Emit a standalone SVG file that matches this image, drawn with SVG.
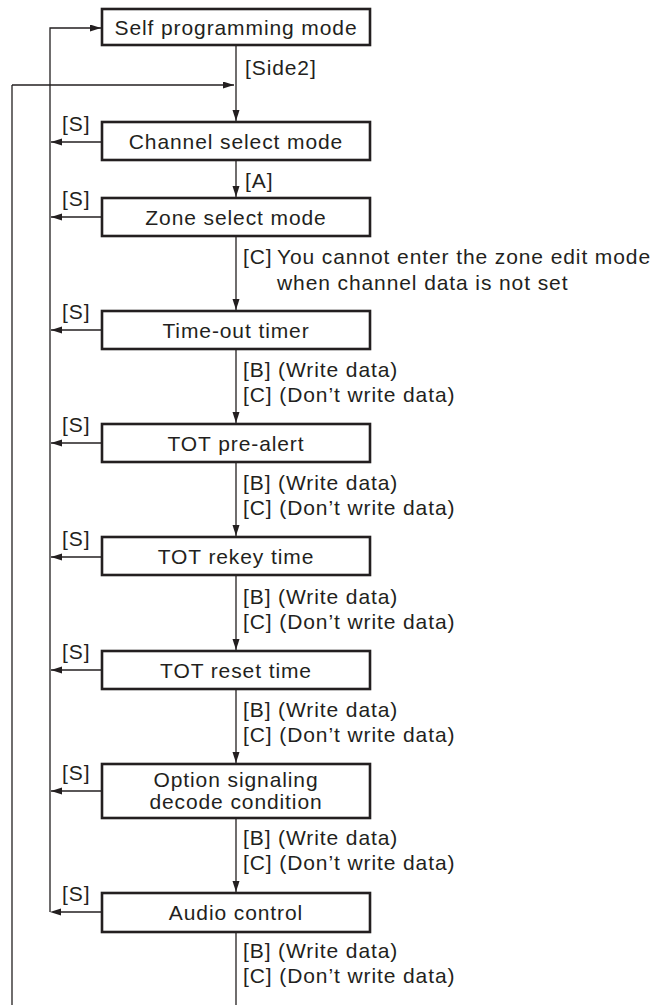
<svg xmlns="http://www.w3.org/2000/svg" width="668" height="1005" viewBox="0 0 668 1005">
<style>
  .box { fill: #fff; stroke: #231f20; stroke-width: 2.6; }
  .t { font-family: "Liberation Sans", Arial, sans-serif; font-size: 21px; letter-spacing: 0.9px; fill: #231f20; }
  .c { text-anchor: middle; }
  .ln { fill: none; stroke: #231f20; stroke-width: 1.3; }
  .ar { fill: none; stroke: #231f20; stroke-width: 1.3; marker-end: url(#ah); }
</style>
<defs>
  <marker id="ah" markerUnits="userSpaceOnUse" markerWidth="12" markerHeight="8" refX="11" refY="3.5" orient="auto">
    <path d="M0,0 L11,3.5 L0,7 Z" fill="#231f20"/>
  </marker>
</defs>
<rect width="668" height="1005" fill="#fff"/>

<g id="connectors">
  <path class="ln" d="M12,1005 V85"/>
  <path class="ar" d="M12,85 H234"/>
  <path class="ar" d="M50,912 V28 H101"/>
  <path class="ar" d="M102,142 H51"/>
  <path class="ar" d="M102,217 H51"/>
  <path class="ar" d="M102,330 H51"/>
  <path class="ar" d="M102,443 H51"/>
  <path class="ar" d="M102,557 H51"/>
  <path class="ar" d="M102,670 H51"/>
  <path class="ar" d="M102,791 H51"/>
  <path class="ln" d="M102,912 H60"/>
  <path d="M50,912 L61,908.5 L61,915.5 Z" fill="#231f20"/>
  <path class="ar" d="M236,46 V121"/>
  <path class="ar" d="M236,161 V197"/>
  <path class="ar" d="M236,237 V310"/>
  <path class="ar" d="M236,350 V423"/>
  <path class="ar" d="M236,463 V536"/>
  <path class="ar" d="M236,576 V650"/>
  <path class="ar" d="M236,690 V763"/>
  <path class="ar" d="M236,819 V892"/>
  <path class="ln" d="M236,933 V1005"/>
</g>

<g id="labels">
  <text class="t" x="245" y="75">[Side2]</text>
  <text class="t" x="62" y="131">[S]</text>
  <text class="t" x="245" y="188">[A]</text>
  <text class="t" x="62" y="206">[S]</text>
  <text class="t" x="243" y="264">[C]</text>
  <text class="t" x="277" y="264">You cannot enter the zone edit mode</text>
  <text class="t" x="277" y="290">when channel data is not set</text>
  <text class="t" x="62" y="319">[S]</text>
  <text class="t" x="243" y="377">[B] (Write data)</text>
  <text class="t" x="243" y="402">[C] (Don’t write data)</text>
  <text class="t" x="62" y="432">[S]</text>
  <text class="t" x="243" y="490">[B] (Write data)</text>
  <text class="t" x="243" y="515">[C] (Don’t write data)</text>
  <text class="t" x="62" y="546">[S]</text>
  <text class="t" x="243" y="604">[B] (Write data)</text>
  <text class="t" x="243" y="629">[C] (Don’t write data)</text>
  <text class="t" x="62" y="659">[S]</text>
  <text class="t" x="243" y="717">[B] (Write data)</text>
  <text class="t" x="243" y="742">[C] (Don’t write data)</text>
  <text class="t" x="62" y="780">[S]</text>
  <text class="t" x="243" y="845">[B] (Write data)</text>
  <text class="t" x="243" y="870">[C] (Don’t write data)</text>
  <text class="t" x="62" y="901">[S]</text>
  <text class="t" x="243" y="958">[B] (Write data)</text>
  <text class="t" x="243" y="983">[C] (Don’t write data)</text>
</g>

<g id="self-programming-mode">
  <rect class="box" x="102" y="9" width="268" height="36"/>
  <text class="t c" x="236" y="35">Self programming mode</text>
</g>
<g id="channel-select-mode">
  <rect class="box" x="102" y="122" width="268" height="38"/>
  <text class="t c" x="236" y="149">Channel select mode</text>
</g>
<g id="zone-select-mode">
  <rect class="box" x="102" y="198" width="268" height="38"/>
  <text class="t c" x="236" y="225">Zone select mode</text>
</g>
<g id="time-out-timer">
  <rect class="box" x="102" y="311" width="268" height="38"/>
  <text class="t c" x="236" y="338">Time-out timer</text>
</g>
<g id="tot-pre-alert">
  <rect class="box" x="102" y="424" width="268" height="38"/>
  <text class="t c" x="236" y="451">TOT pre-alert</text>
</g>
<g id="tot-rekey-time">
  <rect class="box" x="102" y="537" width="268" height="38"/>
  <text class="t c" x="236" y="564">TOT rekey time</text>
</g>
<g id="tot-reset-time">
  <rect class="box" x="102" y="651" width="268" height="38"/>
  <text class="t c" x="236" y="678">TOT reset time</text>
</g>
<g id="option-signaling">
  <rect class="box" x="102" y="764" width="268" height="54"/>
  <text class="t c" x="236" y="787">Option signaling</text>
  <text class="t c" x="236" y="809">decode condition</text>
</g>
<g id="audio-control">
  <rect class="box" x="102" y="893" width="268" height="39"/>
  <text class="t c" x="236" y="920">Audio control</text>
</g>
</svg>
